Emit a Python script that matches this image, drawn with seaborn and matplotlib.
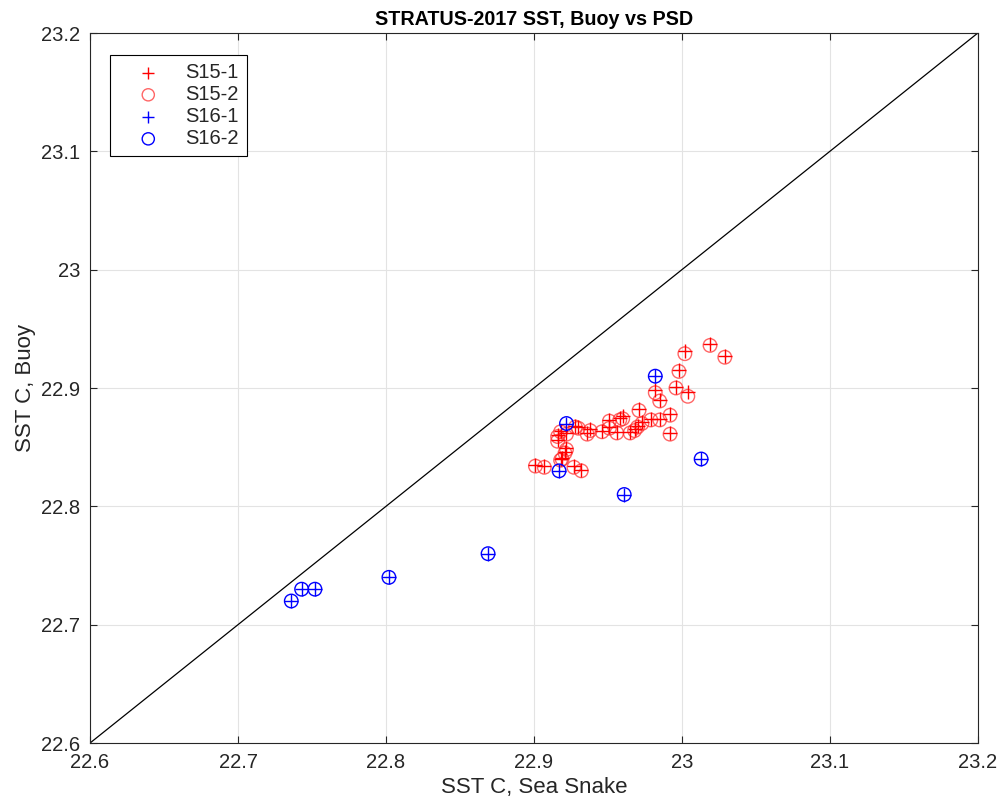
import numpy as np
import matplotlib
matplotlib.use("Agg")
import matplotlib.pyplot as plt
from matplotlib.ticker import FuncFormatter
import seaborn as sns

# Sea Snake SST (x) vs buoy SST (y), degrees C
s15_1_snake = [23.019, 23.029, 23.002, 22.998, 22.996, 23.004, 22.982, 22.985,
               22.971, 22.992, 22.992, 22.985, 22.979, 22.973, 22.970, 22.968,
               22.965, 22.960, 22.958, 22.956, 22.951, 22.951, 22.946, 22.938,
               22.936, 22.930, 22.928, 22.922, 22.918, 22.916, 22.916, 22.922,
               22.921, 22.919, 22.918, 22.901, 22.907, 22.927, 22.932]
s15_1_buoy = [22.937, 22.927, 22.931, 22.915, 22.901, 22.897, 22.898, 22.890,
              22.882, 22.878, 22.862, 22.874, 22.874, 22.871, 22.868, 22.865,
              22.863, 22.876, 22.875, 22.863, 22.873, 22.867, 22.864, 22.865,
              22.862, 22.867, 22.868, 22.862, 22.864, 22.860, 22.856, 22.849,
              22.846, 22.841, 22.840, 22.835, 22.834, 22.834, 22.831]

s15_2_snake = [23.019, 23.029, 23.002, 22.998, 22.996, 23.004, 22.982, 22.985,
               22.971, 22.992, 22.992, 22.985, 22.979, 22.973, 22.970, 22.968,
               22.965, 22.960, 22.958, 22.956, 22.951, 22.951, 22.946, 22.938,
               22.936, 22.930, 22.928, 22.922, 22.918, 22.916, 22.916, 22.922,
               22.921, 22.919, 22.918, 22.901, 22.907, 22.927, 22.932]
s15_2_buoy = [22.936, 22.926, 22.929, 22.914, 22.900, 22.893, 22.896, 22.889,
              22.881, 22.877, 22.861, 22.873, 22.873, 22.870, 22.867, 22.864,
              22.862, 22.874, 22.873, 22.862, 22.872, 22.866, 22.863, 22.864,
              22.861, 22.866, 22.867, 22.861, 22.863, 22.859, 22.855, 22.848,
              22.845, 22.840, 22.839, 22.834, 22.833, 22.833, 22.830]

s16_1_snake = [22.736, 22.743, 22.752, 22.802, 22.869, 22.917, 22.922, 22.961,
               22.982, 23.013]
s16_1_buoy = [22.72, 22.73, 22.73, 22.74, 22.76, 22.83, 22.87, 22.81,
              22.91, 22.84]

s16_2_snake = [22.736, 22.743, 22.752, 22.802, 22.869, 22.917, 22.922, 22.961,
               22.982, 23.013]
s16_2_buoy = [22.72, 22.73, 22.73, 22.74, 22.76, 22.83, 22.87, 22.81,
              22.91, 22.84]

ticks = [22.6, 22.7, 22.8, 22.9, 23.0, 23.1, 23.2]

sns.set_theme(style="white")
plt.rcParams["font.family"] = ["Liberation Sans", "DejaVu Sans"]

fig = plt.figure(figsize=(10.06, 8.05), dpi=100)
ax = fig.add_axes([0.0895, 0.077, 0.8825, 0.882])

# 1:1 reference line
ax.plot([ticks[0], ticks[-1]], [ticks[0], ticks[-1]], color="black", lw=0.9, zorder=2)

msize = 95
sns.scatterplot(x=s15_1_snake, y=s15_1_buoy, marker="+", s=msize, color="red",
                linewidth=1.0, label="S15-1", ax=ax, zorder=4)
sns.scatterplot(x=s15_2_snake, y=s15_2_buoy, marker="o", s=msize, facecolor="none",
                edgecolor=(1.0, 0.2, 0.2, 0.75), linewidth=1.0, label="S15-2",
                ax=ax, zorder=3)
sns.scatterplot(x=s16_1_snake, y=s16_1_buoy, marker="+", s=msize, color="blue",
                linewidth=1.0, label="S16-1", ax=ax, zorder=6)
sns.scatterplot(x=s16_2_snake, y=s16_2_buoy, marker="o", s=msize, facecolor="none",
                edgecolor="blue", linewidth=1.0, label="S16-2", ax=ax, zorder=5)

ax.set_xlim(ticks[0], ticks[-1])
ax.set_ylim(ticks[0], ticks[-1])
ax.set_xticks(ticks)
ax.set_yticks(ticks)
fmt = FuncFormatter(lambda v, p: f"{v:g}")
ax.xaxis.set_major_formatter(fmt)
ax.yaxis.set_major_formatter(fmt)

ax.grid(True, color="#e3e3e3", lw=0.8)
ax.set_axisbelow(True)
for sp in ax.spines.values():
    sp.set_color("#262626")
    sp.set_linewidth(0.8)
ax.tick_params(direction="in", length=5, width=0.8, colors="#262626",
               labelsize=14.5, top=True, right=True, bottom=True, left=True,
               labelcolor="#262626", pad=7)

ax.set_xlabel("SST C, Sea Snake", fontsize=16, color="#262626", labelpad=4)
ax.set_ylabel("SST C, Buoy", fontsize=16, color="#262626", labelpad=4)
ax.set_title("STRATUS-2017 SST, Buoy vs PSD", fontsize=14.2, fontweight="bold",
             color="black", pad=6)

leg = ax.legend(loc="upper left", bbox_to_anchor=(0.0225, 0.969), fontsize=14.5,
                frameon=True, fancybox=False, edgecolor="black",
                borderpad=0.4, handlelength=3.0, handletextpad=0.35,
                labelspacing=0.15, markerscale=0.9, borderaxespad=0)
leg.get_frame().set_linewidth(0.8)
leg.get_frame().set_alpha(1)

fig.savefig("out.png", dpi=100)
